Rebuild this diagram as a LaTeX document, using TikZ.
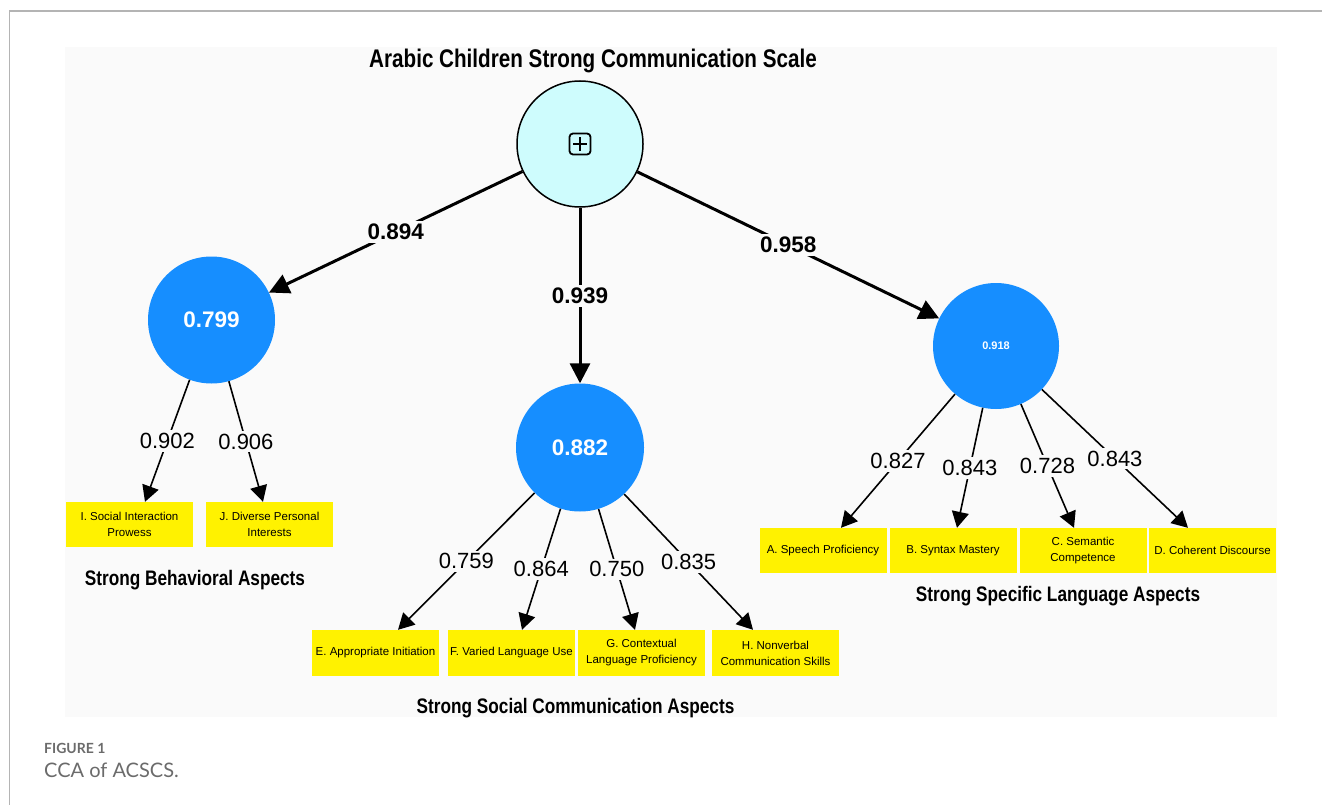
\documentclass[tikz,border=0pt]{standalone}
\usepackage{fontspec}
\usepackage{graphicx}
\setmainfont{Liberation Sans}
\newfontfamily\capfont{Lato}
\usetikzlibrary{arrows.meta}
\definecolor{panel}{HTML}{FAFAFA}
\definecolor{bluec}{RGB}{22,142,255}
\definecolor{cyanc}{RGB}{206,252,253}
\definecolor{framec}{HTML}{B4B4B4}
\definecolor{capc}{HTML}{6B6B6B}
\begin{document}
\begin{tikzpicture}[x=1pt,y=-1pt,
  heading/.style={font=\bfseries\fontsize{21}{25}\selectfont, inner sep=0pt, anchor=base},
  bigcirc/.style={circle, fill=bluec, text=white, inner sep=0pt, font=\bfseries\fontsize{22.5}{27}\selectfont},
  item/.style={fill=yellow, minimum width=127pt, minimum height=45pt, inner sep=0pt, align=center, font=\fontsize{11.5}{16}\selectfont},
  mainarr/.style={line width=3pt, -{Triangle[length=20pt,width=20pt]}},
  subarr/.style={line width=1.6pt, -{Triangle[length=16pt,width=17pt]}},
  mainlbl/.style={fill=panel, inner sep=3pt, font=\bfseries\fontsize{22.5}{27}\selectfont},
  sublbl/.style={fill=panel, inner sep=3pt, font=\fontsize{22}{26}\selectfont},
  capstyle/.style={anchor=base west, inner sep=0pt, text=capc},
]
\useasboundingbox (0,0) rectangle (1322,805);
\fill[panel] (65,47) rectangle (1277,717);
\draw[framec, line width=1.5pt] (9.5,805) -- (9.5,11) -- (1322,11);

% title
\node[heading, font=\bfseries\fontsize{25.5}{30}\selectfont] (title) at (593,68) {\scalebox{0.81}[1]{Arabic Children Strong Communication Scale}};

% circles
\node[circle, draw, line width=1.5pt, fill=cyanc, minimum size=126pt, inner sep=0pt] (T) at (580,144) {};
\node[draw, line width=1.8pt, rounded corners=3.5pt, minimum size=21pt, inner sep=0pt] (icon) at (T.center) {};
\draw[line width=1.6pt] ([xshift=-7pt]icon.center) -- ([xshift=7pt]icon.center);
\draw[line width=1.6pt] ([yshift=-7pt]icon.center) -- ([yshift=7pt]icon.center);

\node[bigcirc, minimum size=127pt] (L) at (211.5,320) {0.799};
\node[bigcirc, minimum size=128pt] (M) at (580,447.5) {0.882};
\node[bigcirc, minimum size=126pt, font=\bfseries\fontsize{11}{13}\selectfont] (R) at (996,346) {0.918};

% boxes
\node[item] (I) at (129.5,524.5) {I. Social Interaction\\Prowess};
\node[item] (J) at (269.5,524.5) {J. Diverse Personal\\Interests};
\node[item, minimum height=46pt] (E) at (375.5,653) {E. Appropriate Initiation};
\node[item, minimum height=46pt] (F) at (511.5,653) {F. Varied Language Use};
\node[item, minimum height=46pt] (G) at (641.5,653) {G. Contextual\\Language Proficiency};
\node[item, minimum height=46pt] (H) at (775.5,653) {H. Nonverbal\\Communication Skills};
\node[item] (A) at (823,550.5) {A. Speech Proficiency};
\node[item] (B) at (953,550.5) {B. Syntax Mastery};
\node[item] (C) at (1083,550.5) {C. Semantic\\Competence};
\node[item] (D) at (1212.5,550.5) {D. Coherent Discourse};

% main arrows
\draw[mainarr] (T) -- node[mainlbl] (l1) {0.894} (L);
\draw[mainarr] (T) -- node[mainlbl] (l2) {0.939} (M);
\draw[mainarr] (T) -- node[mainlbl] (l3) {0.958} (R);

% sub arrows
\draw[subarr] (L) -- node[sublbl] (lI) {0.902} ([xshift=15.5pt]I.north);
\draw[subarr] (L) -- node[sublbl] (lJ) {0.906} ([xshift=-6.5pt]J.north);
\draw[subarr] (M) -- node[sublbl] (lE) {0.759} ([xshift=22.5pt]E.north);
\draw[subarr] (M) -- node[sublbl] (lF) {0.864} ([xshift=10.5pt]F.north);
\draw[subarr] (M) -- node[sublbl] (lG) {0.750} ([xshift=-6.5pt]G.north);
\draw[subarr] (M) -- node[sublbl] (lH) {0.835} ([xshift=-22.5pt]H.north);
\draw[subarr] (R) -- node[sublbl] (lA) {0.827} ([xshift=18pt]A.north);
\draw[subarr] (R) -- node[sublbl] (lB) {0.843} ([xshift=4pt]B.north);
\draw[subarr] (R) -- node[sublbl] (lC) {0.728} ([xshift=-9pt]C.north);
\draw[subarr] (R) -- node[sublbl] (lD) {0.843} ([xshift=-24.5pt]D.north);

% group headings
\node[heading] (hb) at (195,585) {\scalebox{0.82}[1]{Strong Behavioral Aspects}};
\node[heading] (hs) at (575.5,713) {\scalebox{0.82}[1]{Strong Social Communication Aspects}};
\node[heading] (hl) at (1058,601) {\scalebox{0.82}[1]{Strong Specific Language Aspects}};

% caption
\node[capstyle, font=\capfont\bfseries\fontsize{14}{16}\selectfont] (fig) at (44,753) {FIGURE 1};
\node[capstyle, font=\capfont\fontsize{20}{24}\selectfont] (cap) at (44,777) {CCA of ACSCS.};
\end{tikzpicture}
\end{document}
